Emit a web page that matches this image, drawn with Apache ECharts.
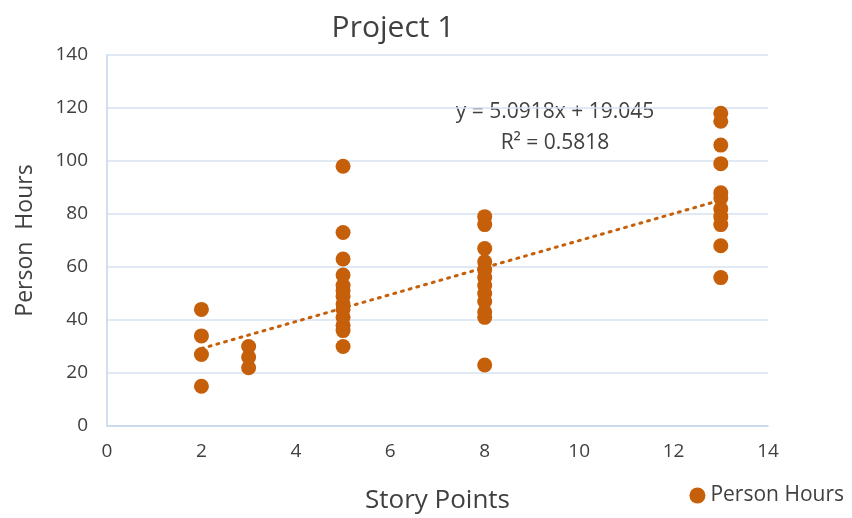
<!DOCTYPE html>
<html><head><meta charset="utf-8">
<script src="https://cdn.jsdelivr.net/npm/echarts@6/dist/echarts.min.js"></script>
<style>html,body{margin:0;padding:0;background:#fff}#c{width:852px;height:518px}</style>
</head><body><div id="c"></div>
<script>
const storyPoints2 = [2,2,2,2];
const hours2 = [44,34,27,15];
const storyPoints3 = [3,3,3];
const hours3 = [30,26,22];
const storyPoints5 = [5,5,5,5,5,5,5,5,5,5,5,5,5];
const hours5 = [98,73,63,57,53,51,49,46,44,41,38,36,30];
const storyPoints8 = [8,8,8,8,8,8,8,8,8,8,8,8];
const hours8 = [79,76,67,62,59,56,53,50,47,43,41,23];
const storyPoints13 = [13,13,13,13,13,13,13,13,13,13,13];
const hours13 = [118,115,106,99,88,86,82,79,76,68,56];
const trendSlope = 5.0918;
const trendIntercept = 19.045;
const rSquared = 0.5818;
const trendRange = [2, 13];

const xs = [].concat(storyPoints2, storyPoints3, storyPoints5, storyPoints8, storyPoints13);
const ys = [].concat(hours2, hours3, hours5, hours8, hours13);
const points = xs.map((x,i)=>[x, ys[i]]);
const trend = trendRange.map(x=>[x, trendSlope*x + trendIntercept]);

const FONT = '"Open Sans", "Liberation Sans", sans-serif';
const TXT = '#404040';
const ORANGE = '#C65F0A';
const GRID = '#d6e2f0';

const chart = echarts.init(document.getElementById('c'), null, {renderer:'canvas'});
chart.setOption({
  animation:false,
  backgroundColor:'#fff',
  title:{text:'Project 1', left:388, top:8, textAlign:'center',
    textStyle:{fontFamily:FONT, fontSize:30, fontWeight:'normal', color:TXT}},
  grid:{left:107, right:84, top:55, bottom:92, containLabel:false, outerBoundsMode:'none'},
  legend:{right:3, bottom:7, icon:'circle', itemWidth:16, itemHeight:16, itemGap:6,
    data:['Person Hours'], textStyle:{fontFamily:FONT, fontSize:21, color:TXT}},
  xAxis:{type:'value', min:0, max:14, interval:2,
    name:'Story Points', nameLocation:'middle', nameGap:62,
    nameTextStyle:{fontFamily:FONT, fontSize:26, color:TXT},
    axisLine:{show:true, lineStyle:{color:'#c5d5ea', width:1.5}},
    axisTick:{show:false},
    axisLabel:{fontFamily:FONT, fontSize:19, color:TXT, margin:16},
    splitLine:{show:false}},
  yAxis:{type:'value', min:0, max:140, interval:20,
    name:'Person  Hours', nameLocation:'middle', nameGap:70,
    nameTextStyle:{fontFamily:FONT, fontSize:23, color:TXT},
    axisLine:{show:true, lineStyle:{color:'#c5d5ea', width:1.5}},
    axisTick:{show:false},
    axisLabel:{fontFamily:FONT, fontSize:19, color:TXT, margin:19},
    splitLine:{show:true, lineStyle:{color:GRID, width:1.5}}},
  series:[
    {name:'Person Hours', type:'scatter', data:points, symbol:'circle', symbolSize:15,
      itemStyle:{color:ORANGE, opacity:1}, z:3},
    {name:'trend', type:'line', data:trend, showSymbol:false, symbol:'none',
      lineStyle:{color:ORANGE, width:3, type:[2,6], cap:'round'}, z:2, silent:true}
  ],
  graphic:[
    {type:'text', position:[555,112], style:{text:'y = ' + trendSlope + 'x + ' + trendIntercept,
      fontFamily:FONT, fontSize:21, fill:TXT, textAlign:'center', textVerticalAlign:'middle'}},
    {type:'text', position:[555,143], style:{text:'R² = ' + rSquared,
      fontFamily:FONT, fontSize:21, fill:TXT, textAlign:'center', textVerticalAlign:'middle'}}
  ]
});
</script></body></html>
